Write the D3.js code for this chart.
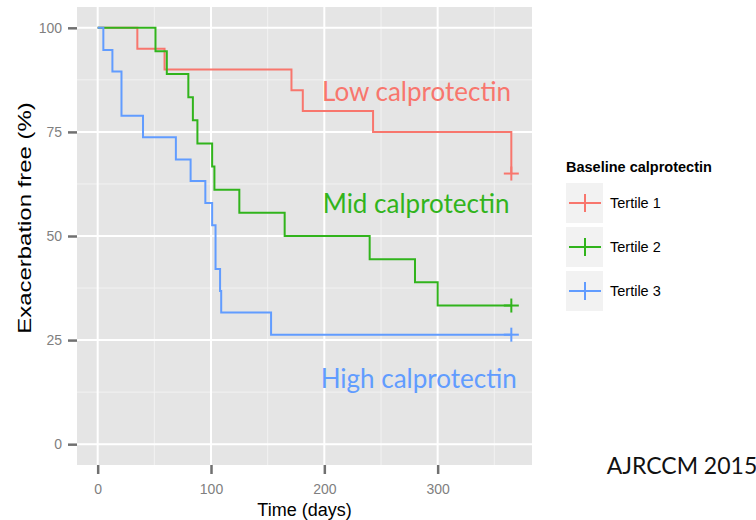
<!DOCTYPE html>
<html>
<head>
<meta charset="utf-8">
<script src="https://d3js.org/d3.v7.min.js"></script>
<style>
    body {
        margin: 0;
        background: #ffffff;
    }
    text {
        font-family: "Liberation Sans", Arial, sans-serif;
    }
    .tick text {
        font-size: 14px;
        fill: #7f7f7f;
    }
    .tick line {
        stroke: #707070;
        stroke-width: 2.5px;
    }
    text.axis-title {
        font-size: 18px;
        fill: #000000;
    }
    text.legend-title {
        font-size: 14.5px;
        font-weight: bold;
        fill: #000000;
    }
    text.legend-label {
        font-size: 14.5px;
        fill: #000000;
    }
    text.note {
        font-family: Lato, "Open Sans", sans-serif;
        font-size: 26px;
    }
</style>
</head>
<body>
<div id="container"></div>

<script>

    // groups and colours
    const tertiles = ["Tertile 1", "Tertile 2", "Tertile 3"];
    const colors = ["#F8766D", "#31B41C", "#619CFF"];

    // Kaplan-Meier steps (days, % exacerbation free)
    const t1Days = [0, 35, 59, 171, 181, 243, 365];
    const t1Free = [100, 95, 90, 85, 80, 75, 65];

    const t2Days = [0, 51, 61, 80, 84, 88, 101, 103, 125, 165, 240, 280, 300, 365];
    const t2Free = [100, 94.4, 88.9, 83.3, 77.8, 72.2, 66.7, 61.1, 55.6, 50, 44.4, 38.9, 33.3, 33.3];

    const t3Days = [0, 5, 13, 21, 40, 69, 82, 95, 101, 104, 108, 109, 153, 365];
    const t3Free = [100, 94.7, 89.5, 78.9, 73.7, 68.4, 63.2, 57.9, 52.6, 42.1, 36.8, 31.6, 26.3, 26.3];

    // censored at end of follow-up
    const censorDays = [365, 365, 365];

    // axis ticks
    const xTicks = [0, 100, 200, 300];
    const yTicks = [0, 25, 50, 75, 100];
    const xMinor = [50, 150, 250, 350];
    const yMinor = [12.5, 37.5, 62.5, 87.5];

    // annotations on the panel
    const notes = ["Low calprotectin", "Mid calprotectin", "High calprotectin"];

    const series = [
        {days: t1Days, free: t1Free},
        {days: t2Days, free: t2Free},
        {days: t3Days, free: t3Free}
    ].map((s, i) => ({
        name: tertiles[i],
        color: colors[i],
        points: s.days.map((d, j) => [d, s.free[j]]),
        censor: [censorDays[i], s.free[s.free.length - 1]]
    }));

    // panel box
    const panel = {left: 77, right: 532, top: 7, bottom: 465};

    const svg = d3.select("#container")
        .append("svg")
        .attr("width", 756)
        .attr("height", 520);

    // ggplot style expanded scales
    const x = d3.scaleLinear()
        .domain([-18.25, 383.25])
        .range([panel.left, panel.right]);

    const y = d3.scaleLinear()
        .domain([-5, 105])
        .range([panel.bottom, panel.top]);

    // grey panel
    svg.append("rect")
        .attr("x", panel.left)
        .attr("y", panel.top)
        .attr("width", panel.right - panel.left)
        .attr("height", panel.bottom - panel.top)
        .attr("fill", "#E5E5E5");

    // minor grid
    svg.selectAll("xminor")
        .data(xMinor)
        .join("line")
        .attr("x1", d => x(d)).attr("x2", d => x(d))
        .attr("y1", panel.top).attr("y2", panel.bottom)
        .attr("stroke", "#F2F2F2")
        .attr("stroke-width", 1);
    svg.selectAll("yminor")
        .data(yMinor)
        .join("line")
        .attr("x1", panel.left).attr("x2", panel.right)
        .attr("y1", d => y(d)).attr("y2", d => y(d))
        .attr("stroke", "#F2F2F2")
        .attr("stroke-width", 1);

    // major grid
    svg.selectAll("xmajor")
        .data(xTicks)
        .join("line")
        .attr("x1", d => x(d)).attr("x2", d => x(d))
        .attr("y1", panel.top).attr("y2", panel.bottom)
        .attr("stroke", "#ffffff")
        .attr("stroke-width", 2);
    svg.selectAll("ymajor")
        .data(yTicks)
        .join("line")
        .attr("x1", panel.left).attr("x2", panel.right)
        .attr("y1", d => y(d)).attr("y2", d => y(d))
        .attr("stroke", "#ffffff")
        .attr("stroke-width", 2);

    // axes
    const xAxis = svg.append("g")
        .attr("transform", `translate(0, ${panel.bottom})`)
        .call(d3.axisBottom(x).tickValues(xTicks).tickSize(9).tickPadding(10));
    xAxis.select(".domain").remove();

    const yAxis = svg.append("g")
        .attr("transform", `translate(${panel.left}, 0)`)
        .call(d3.axisLeft(y).tickValues(yTicks).tickSize(9).tickPadding(6));
    yAxis.select(".domain").remove();

    // axis titles
    svg.append("text")
        .attr("class", "axis-title")
        .attr("x", (panel.left + panel.right) / 2)
        .attr("y", 516)
        .attr("text-anchor", "middle")
        .text("Time (days)");

    // the source image is stretched vertically, so the rotated title is too
    svg.append("text")
        .attr("class", "axis-title")
        .attr("transform", "translate(31, 218) rotate(-90) scale(1.33, 1)")
        .attr("text-anchor", "middle")
        .text("Exacerbation free (%)");

    // step curves
    const line = d3.line()
        .x(d => x(d[0]))
        .y(d => y(d[1]))
        .curve(d3.curveStepAfter);

    svg.selectAll("curve")
        .data(series)
        .join("path")
        .attr("d", d => line(d.points))
        .attr("fill", "none")
        .attr("stroke", d => d.color)
        .attr("stroke-width", 2);

    // censor marks
    const cross = svg.selectAll("censor")
        .data(series)
        .join("g")
        .attr("transform", d => `translate(${x(d.censor[0])}, ${y(d.censor[1])})`);
    cross.append("line")
        .attr("x1", -7.5).attr("x2", 7.5)
        .attr("stroke", d => d.color).attr("stroke-width", 2);
    cross.append("line")
        .attr("y1", -7).attr("y2", 7)
        .attr("stroke", d => d.color).attr("stroke-width", 2);

    // group notes
    const notePos = [[322, 101], [322.7, 213.3], [320.7, 388.3]];
    svg.selectAll("notes")
        .data(notes)
        .join("text")
        .attr("class", "note")
        .attr("x", (d, i) => notePos[i][0])
        .attr("y", (d, i) => notePos[i][1])
        .attr("fill", (d, i) => colors[i])
        .text(d => d);

    svg.append("text")
        .attr("class", "note")
        .attr("x", 606.7)
        .attr("y", 474.3)
        .style("font-size", "23px")
        .attr("fill", "#111111")
        .text("AJRCCM 2015");

    // legend
    const legend = svg.append("g")
        .attr("transform", "translate(566, 0)");

    legend.append("text")
        .attr("class", "legend-title")
        .attr("x", 0)
        .attr("y", 171.5)
        .text("Baseline calprotectin");

    const keys = legend.selectAll("key")
        .data(series)
        .join("g")
        .attr("transform", (d, i) => `translate(0, ${183 + i * 44})`);

    keys.append("rect")
        .attr("width", 37)
        .attr("height", 40)
        .attr("fill", "#F2F2F2");
    keys.append("line")
        .attr("x1", 3).attr("x2", 35)
        .attr("y1", 20).attr("y2", 20)
        .attr("stroke", d => d.color).attr("stroke-width", 2);
    keys.append("line")
        .attr("x1", 19).attr("x2", 19)
        .attr("y1", 11).attr("y2", 29)
        .attr("stroke", d => d.color).attr("stroke-width", 2);
    keys.append("text")
        .attr("class", "legend-label")
        .attr("x", 44)
        .attr("y", 20)
        .attr("dy", "0.35em")
        .text(d => d.name);

</script>
</body>
</html>
